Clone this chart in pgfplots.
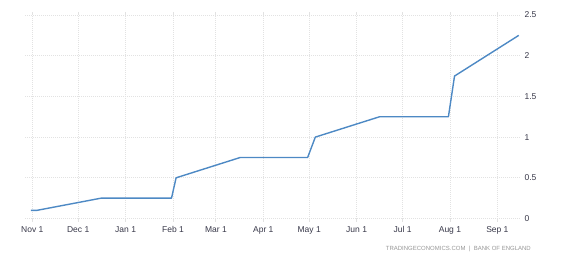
\documentclass[border=0pt]{standalone}
\usepackage{fontspec}
\setmainfont{Liberation Sans}
\usepackage{pgfplots}
\pgfplotsset{compat=1.18}
\definecolor{lineblue}{RGB}{77,137,196}
\definecolor{gridc}{RGB}{226,226,226}
\definecolor{labc}{RGB}{55,55,72}
\definecolor{srcc}{RGB}{150,150,150}
\begin{document}
\begin{tikzpicture}
\useasboundingbox (0,0) rectangle (565pt,263pt);
\begin{axis}[
  at={(25pt,44.5pt)}, anchor=south west,
  scale only axis,
  width=495pt, height=203.5pt,
  xmin=-4.77, xmax=318.8,
  ymin=0, ymax=2.5,
  axis line style={draw=none},
  xtick={0,30,61,92,120,151,181,212,242,273,304},
  xticklabels={Nov 1,Dec 1,Jan 1,Feb 1,Mar 1,Apr 1,May 1,Jun 1,Jul 1,Aug 1,Sep 1},
  ytick={0,0.5,1,1.5,2,2.5},
  yticklabels={0,0.5,1,1.5,2,2.5},
  yticklabel pos=right,
  grid=major,
  major grid style={gridc, line width=0.8pt, dash pattern=on 1pt off 1pt},
  x tick style={gridc, line width=0.8pt},
  y tick style={draw=none},
  tick align=outside,
  major tick length=3pt,
  xticklabel style={font=\fontsize{8.5}{10}\selectfont, text=labc, yshift=-1.5pt},
  yticklabel style={font=\fontsize{8.5}{10}\selectfont, text=labc, xshift=-2pt},
  /pgf/number format/assume math mode=true,
  clip=false,
]
\addplot[lineblue, line width=1.4pt, line join=round] coordinates {
(-1,0.1) (3,0.1) (45,0.25) (91,0.25) (94,0.5) (136,0.75) (180,0.75)
(185,1.0) (227,1.25) (272,1.25) (276,1.75) (318,2.25)
};
\end{axis}
\node[anchor=east, text=srcc, font=\fontsize{6}{7}\selectfont, inner sep=0pt] at (531pt,14pt) {TRADINGECONOMICS.COM \ | \ BANK OF ENGLAND};
\end{tikzpicture}
\end{document}
